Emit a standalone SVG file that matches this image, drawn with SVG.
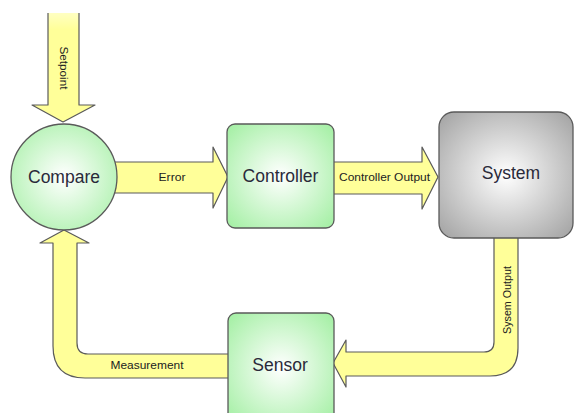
<svg xmlns="http://www.w3.org/2000/svg" width="575" height="413" viewBox="0 0 575 413">
<defs>
<radialGradient id="green" cx="50%" cy="50%" r="65%">
<stop offset="0" stop-color="#ffffff"/>
<stop offset="1" stop-color="#a8f0a8"/>
</radialGradient>
<radialGradient id="gray" cx="50%" cy="50%" r="65%">
<stop offset="0" stop-color="#ffffff"/>
<stop offset="1" stop-color="#a8a8a8"/>
</radialGradient>
<linearGradient id="fadeTop" x1="0" y1="0" x2="0" y2="1">
<stop offset="0" stop-color="#ffff99" stop-opacity="0.6"/>
<stop offset="0.15" stop-color="#ffff99"/>
</linearGradient>
</defs>
<style>
.arrow{fill:#ffff99;stroke:#5a5a5a;stroke-width:1.2;stroke-linejoin:round}
.node{stroke:#5a5a5a;stroke-width:1.3}
.big{font-family:"Liberation Sans",Arial,sans-serif;font-size:17.5px;fill:#2a2a3a;text-anchor:middle;dominant-baseline:central}
.small{font-family:"Liberation Sans",Arial,sans-serif;font-size:11px;fill:#222;text-anchor:middle;dominant-baseline:central}
</style>
<rect width="575" height="413" fill="#ffffff"/>
<g id="connectors">
<g id="setpoint">
<path d="M48 13 L48 105 L32 105 L63 122 L95 105 L79 105 L79 13" fill="url(#fadeTop)" stroke="#5a5a5a" stroke-width="1.2" stroke-linejoin="round"/>
<text class="small" transform="translate(64 68) rotate(90)" textLength="43" lengthAdjust="spacingAndGlyphs">Setpoint</text>
</g>
<g id="error">
<path class="arrow" d="M110 162 L213 162 L213 147 L228 177 L213 208 L213 193 L110 193"/>
<text class="small" x="172" y="177" textLength="27" lengthAdjust="spacingAndGlyphs">Error</text>
</g>
<g id="controller-output">
<path class="arrow" d="M334 162 L422 162 L422 147 L438 177 L422 209 L422 194 L334 194"/>
<text class="small" x="384.5" y="177" textLength="91" lengthAdjust="spacingAndGlyphs">Controller Output</text>
</g>
<g id="system-output">
<path class="arrow" d="M494 236 L494 342 Q494 352 484 352 L346 352 L346 340 L333 363 L346 387 L346 376 L490 376 Q518 376 518 348 L518 236"/>
<text class="small" transform="translate(507 300) rotate(-90)" textLength="68" lengthAdjust="spacingAndGlyphs">Sysem Output</text>
</g>
<g id="measurement">
<path class="arrow" d="M230 354 L88 354 Q77 354 77 343 L77 243 L89 243 L64 230 L40 243 L53 243 L53 346 Q53 378 85 378 L230 378"/>
<text class="small" x="147" y="365" textLength="73" lengthAdjust="spacingAndGlyphs">Measurement</text>
</g>
</g>
<g id="compare">
<circle class="node" cx="64" cy="177" r="53" fill="url(#green)"/>
<text class="big" x="64" y="177">Compare</text>
</g>
<g id="controller">
<rect class="node" x="227" y="124" width="107" height="104" rx="8" fill="url(#green)"/>
<text class="big" x="280.5" y="176">Controller</text>
</g>
<g id="system">
<rect class="node" x="439" y="112" width="134" height="126" rx="15" fill="url(#gray)"/>
<text class="big" x="511" y="173">System</text>
</g>
<g id="sensor">
<rect class="node" x="228" y="313" width="106" height="110" rx="8" fill="url(#green)"/>
<text class="big" x="280" y="365">Sensor</text>
</g>
</svg>
